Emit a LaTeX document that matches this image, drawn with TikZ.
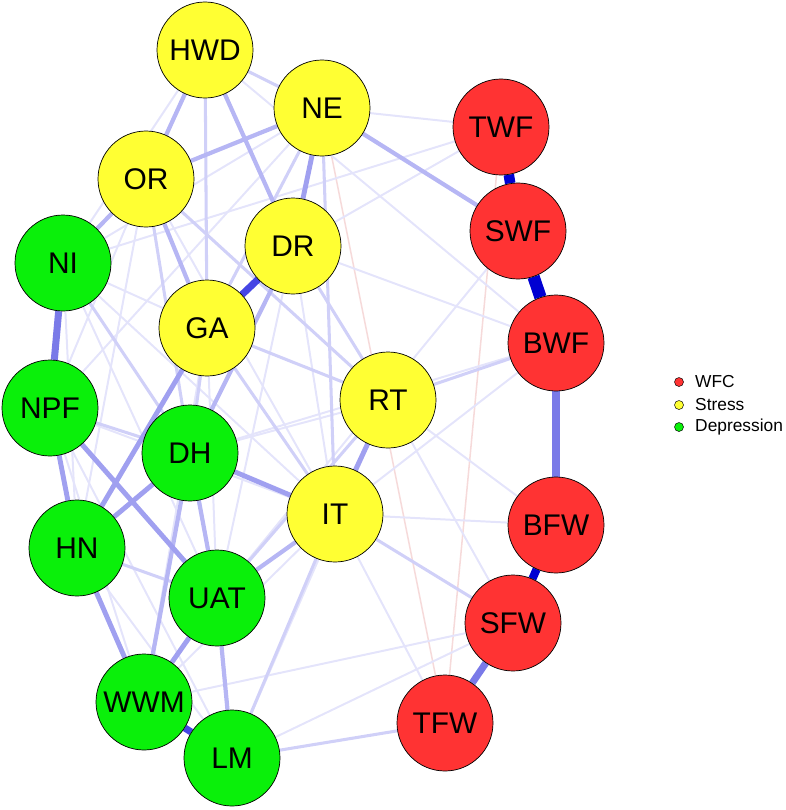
\documentclass[tikz,border=0pt]{standalone}
\usepackage{fontspec}
\setmainfont{Liberation Sans}
\usetikzlibrary{backgrounds}

\definecolor{wfcred}{RGB}{255,51,51}
\definecolor{stressyel}{RGB}{255,255,51}
\definecolor{depgreen}{RGB}{10,240,10}
\definecolor{edgetop}{RGB}{0,0,210}
\definecolor{edgeheavy}{RGB}{70,70,228}
\definecolor{edgestrong}{RGB}{122,122,232}
\definecolor{edgemedium}{RGB}{160,160,240}
\definecolor{edgemid}{RGB}{182,182,244}
\definecolor{edgelight}{RGB}{208,208,248}
\definecolor{edgefaint}{RGB}{228,228,251}
\definecolor{edgeneg}{RGB}{246,218,218}

\begin{document}
\begin{tikzpicture}[x=0.03cm,y=-0.03cm,
 item/.style={circle,draw=black,line width=0.6pt,minimum size=2.88cm,inner sep=0pt,font=\fontsize{25.5}{28}\selectfont},
 wfc/.style={item,fill=wfcred},
 stress/.style={item,fill=stressyel},
 dep/.style={item,fill=depgreen},
 top/.style={edgetop,line width=9pt},
 heavy/.style={edgeheavy,line width=6pt},
 strong/.style={edgestrong,line width=6pt},
 medium/.style={edgemedium,line width=4.2pt},
 mid/.style={edgemid,line width=3.6pt},
 light/.style={edgelight,line width=2.6pt},
 faint/.style={edgefaint,line width=1.7pt},
 neg/.style={edgeneg,line width=1.3pt},
 key/.style={circle,draw=black,line width=0.4pt,minimum size=0.27cm,inner sep=0pt},
 keytext/.style={anchor=west,inner sep=0pt,font=\fontsize{14.8}{16}\selectfont}]
\useasboundingbox (0,0) rectangle (786,810);
% stress
\node[stress] (hwd) at (205,50) {HWD};
\node[stress] (ne) at (322,108) {NE};
\node[stress] (or) at (146,179) {OR};
\node[stress] (dr) at (293,246) {DR};
\node[stress] (ga) at (207,328) {GA};
\node[stress] (rt) at (388,400) {RT};
\node[stress] (it) at (335,514) {IT};
% work-family conflict
\node[wfc] (twf) at (501,127) {TWF};
\node[wfc] (swf) at (518,231) {SWF};
\node[wfc] (bwf) at (556,343) {BWF};
\node[wfc] (bfw) at (556,525) {BFW};
\node[wfc] (sfw) at (513,623) {SFW};
\node[wfc] (tfw) at (445,723) {TFW};
% depression
\node[dep] (ni) at (63,263) {NI};
\node[dep] (npf) at (50,408) {NPF};
\node[dep] (dh) at (190,453) {DH};
\node[dep] (hn) at (77,548) {HN};
\node[dep] (uat) at (217,598) {UAT};
\node[dep] (wwm) at (144,702) {WWM};
\node[dep] (lm) at (232,758) {LM};
% edges, under the nodes
\begin{pgfonlayer}{background}
\draw[neg] (ne) -- (tfw); \draw[neg] (twf) -- (tfw);
\draw[faint] (wwm) -- (sfw); \draw[faint] (dr) -- (bwf); \draw[faint] (it) -- (bwf);
\draw[faint] (ne) -- (twf); \draw[faint] (ni) -- (twf); \draw[faint] (ne) -- (ni);
\draw[faint] (ne) -- (npf); \draw[faint] (or) -- (npf); \draw[faint] (or) -- (hn);
\draw[faint] (ni) -- (ga); \draw[faint] (ni) -- (hn); \draw[faint] (ni) -- (uat);
\draw[faint] (ni) -- (it); \draw[faint] (ga) -- (uat); \draw[faint] (ga) -- (wwm);
\draw[faint] (dh) -- (rt); \draw[faint] (npf) -- (it); \draw[faint] (npf) -- (wwm);
\draw[faint] (npf) -- (lm); \draw[faint] (hn) -- (lm); \draw[faint] (it) -- (wwm);
\draw[faint] (rt) -- (lm); \draw[faint] (it) -- (tfw); \draw[faint] (lm) -- (sfw);
\draw[faint] (hwd) -- (bwf); \draw[faint] (swf) -- (uat); \draw[faint] (dr) -- (it);
\draw[faint] (twf) -- (dr); \draw[faint] (hwd) -- (ni); \draw[faint] (or) -- (it);
\draw[faint] (dr) -- (uat); \draw[faint] (rt) -- (sfw); \draw[faint] (it) -- (bfw);
\draw[faint] (rt) -- (bfw); \draw[faint] (dh) -- (bwf);
\draw[light] (or) -- (dh); \draw[light] (lm) -- (tfw); \draw[light] (it) -- (sfw);
\draw[light] (rt) -- (bwf); \draw[light] (ga) -- (rt); \draw[light] (dr) -- (rt);
\draw[light] (ne) -- (it); \draw[light] (hwd) -- (ne); \draw[light] (hwd) -- (ga);
\draw[light] (ne) -- (ga); \draw[light] (or) -- (rt); \draw[light] (ni) -- (dh);
\draw[light] (ga) -- (it); \draw[light] (hn) -- (uat); \draw[light] (it) -- (lm);
\draw[light] (uat) -- (rt); \draw[light] (npf) -- (dh); \draw[light] (ga) -- (dh);
\draw[mid] (ne) -- (swf); \draw[mid] (hwd) -- (dr); \draw[mid] (ne) -- (or);
\draw[mid] (hwd) -- (or); \draw[mid] (or) -- (ni); \draw[mid] (or) -- (ga);
\draw[mid] (uat) -- (lm); \draw[mid] (dh) -- (uat); \draw[mid] (dh) -- (wwm);
\draw[mid] (dr) -- (dh); \draw[mid] (uat) -- (it);
\draw[medium] (rt) -- (it); \draw[medium] (ne) -- (dr); \draw[medium] (npf) -- (hn);
\draw[medium] (npf) -- (uat); \draw[medium] (dh) -- (it); \draw[medium] (dh) -- (hn);
\draw[medium] (ga) -- (hn); \draw[medium] (hn) -- (wwm); \draw[medium] (uat) -- (wwm);
\draw[strong] (bwf) -- (bfw); \draw[strong] (ni) -- (npf); \draw[strong] (sfw) -- (tfw);
\draw[heavy] (wwm) -- (lm); \draw[heavy] (dr) -- (ga);
\draw[top] (twf) -- (swf); \draw[top,line width=10.5pt] (swf) -- (bwf); \draw[top,line width=7pt] (bfw) -- (sfw);
\end{pgfonlayer}
% legend
\node[key,fill=wfcred] (kwfc) at (679,382) {};
\node[key,fill=stressyel] (kstress) at (679,405) {};
\node[key,fill=depgreen] (kdep) at (679,427) {};
\node[keytext] at (695,382) {WFC};
\node[keytext] at (695,405) {Stress};
\node[keytext] at (695,427) {Depression};
\end{tikzpicture}
\end{document}
